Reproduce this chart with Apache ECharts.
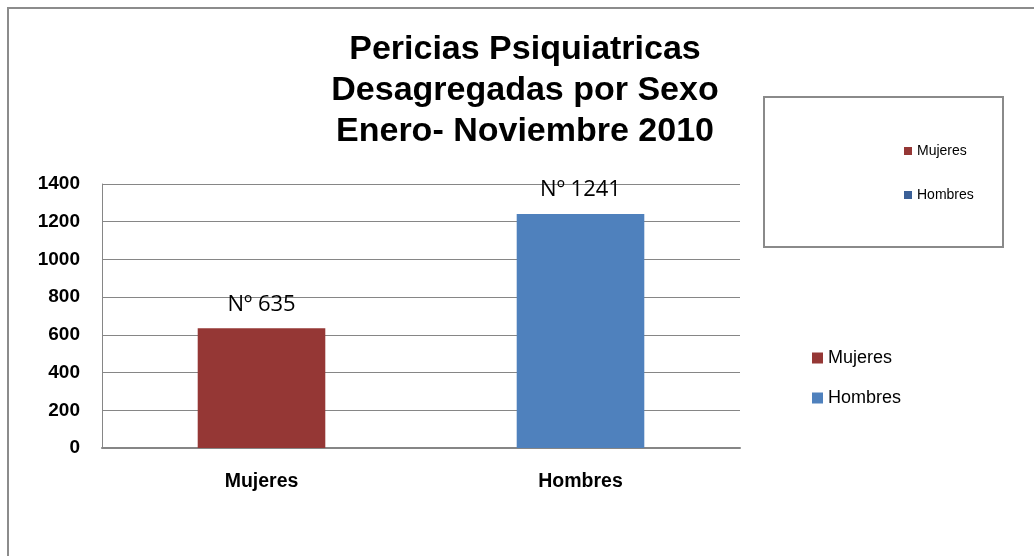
<!DOCTYPE html>
<html>
<head>
<meta charset="utf-8">
<script src="https://cdn.jsdelivr.net/npm/echarts@6/dist/echarts.min.js"></script>
<style>
  html, body { margin: 0; padding: 0; background: #fff; }
  #chart { width: 1034px; height: 556px; }
</style>
</head>
<body>
<div id="chart"></div>
<script>
const titleLines = ['Pericias Psiquiatricas', 'Desagregadas por Sexo', 'Enero- Noviembre 2010'];
const categories = ['Mujeres', 'Hombres'];
const values = [635, 1241];
const yTicks = [0, 200, 400, 600, 800, 1000, 1200, 1400];

const barColors = ['#953735', '#4f81bd'];
const boxLegendColors = ['#953735', '#3b6097'];
const gray = '#868686';
const arial = '"Liberation Sans", Arial, sans-serif';

// one series per category, stacked so each bar sits centred in its slot
const series = categories.map(function (name, i) {
  return {
    name: name,
    type: 'bar',
    stack: 'total',
    barWidth: '40%',
    itemStyle: { color: barColors[i] },
    label: {
      show: true,
      position: 'top',
      distance: 13,
      formatter: 'Nº {c}',
      fontFamily: '"Open Sans", sans-serif',
      fontSize: 22,
      color: '#000'
    },
    data: categories.map(function (c, j) { return j === i ? values[i] : '-'; })
  };
});

const chart = echarts.init(document.getElementById('chart'), null, { renderer: 'canvas' });
chart.setOption({
  animation: false,
  backgroundColor: '#fff',
  grid: { left: 102, right: 294, top: 184, bottom: 108 },
  graphic: [
    {
      type: 'rect',
      shape: { x: 8, y: 8, width: 1100, height: 600 },
      style: { fill: 'none', stroke: '#8c8c8c', lineWidth: 2 },
      silent: true
    },
    {
      type: 'rect',
      shape: { x: 764, y: 97, width: 239, height: 150 },
      style: { fill: 'none', stroke: '#8a8a8a', lineWidth: 2 },
      silent: true
    },
    {
      type: 'text',
      x: 525,
      y: 29,
      style: {
        text: titleLines.join('\n'),
        fontFamily: arial,
        fontSize: 34,
        fontWeight: 'bold',
        lineHeight: 41,
        align: 'center',
        verticalAlign: 'top',
        fill: '#000'
      }
    }
  ],
  legend: [
    {
      orient: 'vertical',
      left: 904,
      top: 144,
      padding: 0,
      icon: 'rect',
      itemWidth: 8,
      itemHeight: 8,
      itemGap: 30,
      textStyle: { fontFamily: arial, fontSize: 14, lineHeight: 14, color: '#000' },
      data: categories.map(function (c, i) {
        return { name: c, itemStyle: { color: boxLegendColors[i] } };
      })
    },
    {
      orient: 'vertical',
      left: 812,
      top: 349,
      padding: 0,
      icon: 'rect',
      itemWidth: 11,
      itemHeight: 11,
      itemGap: 22,
      textStyle: { fontFamily: arial, fontSize: 18, lineHeight: 18, color: '#000' },
      data: categories
    }
  ],
  xAxis: {
    type: 'category',
    data: categories,
    axisLine: { lineStyle: { color: gray, width: 2 } },
    axisTick: { show: false },
    axisLabel: {
      margin: 24,
      fontFamily: arial,
      fontSize: 19.5,
      fontWeight: 'bold',
      color: '#000'
    }
  },
  yAxis: {
    type: 'value',
    min: yTicks[0],
    max: yTicks[yTicks.length - 1],
    interval: yTicks[1] - yTicks[0],
    axisLine: { show: true, lineStyle: { color: gray, width: 1 } },
    axisTick: { show: false },
    splitLine: { lineStyle: { color: gray, width: 1 } },
    axisLabel: {
      margin: 22,
      fontFamily: arial,
      fontSize: 19,
      fontWeight: 'bold',
      color: '#000',
      formatter: function (v) { return String(v); }
    }
  },
  series: series
});
</script>
</body>
</html>
